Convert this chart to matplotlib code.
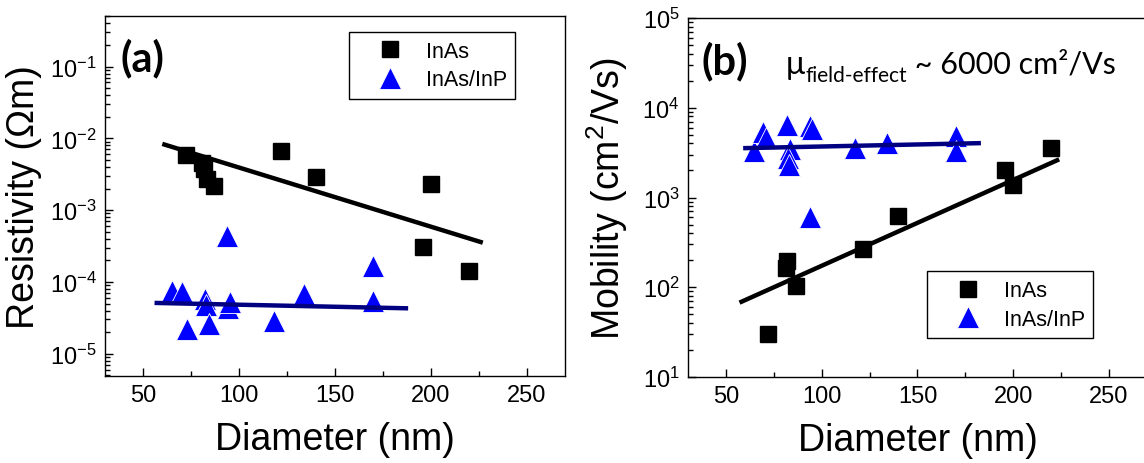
import matplotlib
matplotlib.use("Agg")
import matplotlib.pyplot as plt
from matplotlib.ticker import LogLocator, NullFormatter, MultipleLocator

plt.rcParams['font.family'] = ['Liberation Sans', 'DejaVu Sans']
plt.rcParams['mathtext.fontset'] = 'custom'
plt.rcParams['mathtext.rm'] = 'Liberation Sans'
plt.rcParams['mathtext.it'] = 'Liberation Sans:italic'
plt.rcParams['mathtext.bf'] = 'Liberation Sans:bold'

# (a) resistivity vs diameter
d_a_inas = [72, 80.5, 81.5, 83, 87, 122, 140, 196, 200, 220]
r_a_inas = [5.8e-3, 4.6e-3, 3.7e-3, 2.7e-3, 2.2e-3, 6.7e-3, 2.9e-3, 3.1e-4, 2.3e-3, 1.4e-4]
d_a_inp = [65, 70, 73, 82, 82.5, 84, 94, 95, 93.5, 118, 134, 170, 170]
r_a_inp = [7.6e-5, 7.3e-5, 2.2e-5, 5.7e-5, 4.7e-5, 2.6e-5, 4.4e-5, 5.2e-5, 4.4e-4,
           2.9e-5, 6.8e-5, 1.65e-4, 5.5e-5]
fit_a_inas_d = [61, 226]
fit_a_inas_r = [8.2e-3, 3.6e-4]
fit_a_inp_d = [57, 187]
fit_a_inp_r = [5.1e-5, 4.3e-5]

# (b) mobility vs diameter
d_b_inas = [72, 81, 82, 86.5, 121.5, 140, 195.5, 200, 220]
mu_b_inas = [30, 165, 195, 103, 265, 615, 2000, 1370, 3550]
d_b_inp = [64.5, 69, 71, 82, 83.5, 82.5, 83, 94, 95, 94, 117.5, 134, 170, 170]
mu_b_inp = [3300, 5300, 4600, 6400, 3450, 2750, 2300, 6300, 5800, 600, 3600, 4100, 4800, 3300]
fit_b_inas_d = [58, 223]
fit_b_inas_mu = [69, 2600]
fit_b_inp_d = [60, 182]
fit_b_inp_mu = [3550, 4030]

labels = ['InAs', 'InAs/InP']
xticks = [50, 100, 150, 200, 250]

W, H = 1144, 464
fig = plt.figure(figsize=(W / 100, H / 100), dpi=100)
ax1 = fig.add_axes([105 / W, 1 - 377 / H, 460 / W, 360 / H])
ax2 = fig.add_axes([688 / W, 1 - 378 / H, 459 / W, 359 / H])

blue = '#0000ff'
navy = '#000080'


def style(ax):
    ax.set_yscale('log')
    ax.set_xlim(30, 270)
    ax.set_xticks(xticks)
    ax.xaxis.set_minor_locator(MultipleLocator(25))
    ax.yaxis.set_major_locator(LogLocator(base=10))
    ax.yaxis.set_minor_locator(LogLocator(base=10, subs=range(2, 10)))
    ax.yaxis.set_minor_formatter(NullFormatter())
    ax.tick_params(which='both', direction='in', top=False, right=False,
                   labelsize=17, width=1)
    ax.tick_params(axis='both', which='major', length=6, pad=6)
    ax.tick_params(axis='both', which='minor', length=3.5)
    for s in ax.spines.values():
        s.set_linewidth(1.0)


# panel (a)
ax1.plot(d_a_inas, r_a_inas, ls='none', marker='s', ms=11.5, color='black',
         mec='black', label=labels[0], zorder=3)
ax1.plot(d_a_inp, r_a_inp, ls='none', marker='^', ms=16, color=blue,
         mec='white', mew=0.6, label=labels[1], zorder=3)
ax1.plot(fit_a_inas_d, fit_a_inas_r, color='black', lw=3.2, zorder=4)
ax1.plot(fit_a_inp_d, fit_a_inp_r, color=navy, lw=3.2, zorder=4)
style(ax1)
ax1.set_ylim(4.9e-6, 0.506)
ax1.set_xlabel('Diameter (nm)', fontsize=27)
ax1.set_ylabel('Resistivity (Ωm)', fontsize=27)
ax1.xaxis.set_label_coords(0.5, -0.125)
ax1.yaxis.set_label_coords(-0.137, 0.5)
ax1.text(0.033, 0.886, '(a)', transform=ax1.transAxes, fontsize=30,
         fontweight='bold', family=['Lato', 'DejaVu Sans'], va='center', ha='left')
leg1 = ax1.legend(loc='upper left', bbox_to_anchor=(0.531, 0.955), borderaxespad=0,
                  fontsize=15.5, numpoints=1, handlelength=3.0, handletextpad=0.15,
                  borderpad=0.4, labelspacing=0.35, fancybox=False, framealpha=1,
                  edgecolor='black')
leg1.get_frame().set_linewidth(1.0)

# panel (b)
ax2.plot(d_b_inas, mu_b_inas, ls='none', marker='s', ms=11.5, color='black',
         mec='black', label=labels[0], zorder=3)
ax2.plot(d_b_inp, mu_b_inp, ls='none', marker='^', ms=16, color=blue,
         mec='white', mew=0.6, label=labels[1], zorder=3)
ax2.plot(fit_b_inas_d, fit_b_inas_mu, color='black', lw=3.2, zorder=4)
ax2.plot(fit_b_inp_d, fit_b_inp_mu, color=navy, lw=3.2, zorder=4)
style(ax2)
ax2.set_ylim(10, 1e5)
ax2.set_xlabel('Diameter (nm)', fontsize=27)
ax2.set_ylabel('Mobility (cm$^2$/Vs)', fontsize=27)
ax2.xaxis.set_label_coords(0.5, -0.125)
ax2.yaxis.set_label_coords(-0.126, 0.5)
ax2.text(0.029, 0.883, '(b)', transform=ax2.transAxes, fontsize=30,
         fontweight='bold', family=['Lato', 'DejaVu Sans'], va='center', ha='left')

fam = ['Lato', 'DejaVu Sans']
yb = 0.847
t1 = ax2.text(0.212, yb, 'μ', transform=ax2.transAxes, fontsize=23,
              family=fam, va='baseline', ha='left')
t2 = ax2.annotate('field-effect', xy=(1, yb), xycoords=(t1, 'axes fraction'),
                  xytext=(1, -6), textcoords='offset points', fontsize=15,
                  family=fam, va='baseline', ha='left')
t3 = ax2.annotate(' ~ 6000 cm²/Vs', xy=(1, yb), xycoords=(t2, 'axes fraction'),
                  fontsize=22, family=fam, va='baseline', ha='left')

leg2 = ax2.legend(loc='lower left', bbox_to_anchor=(0.521, 0.108), borderaxespad=0,
                  fontsize=15.5, numpoints=1, handlelength=3.0, handletextpad=0.15,
                  borderpad=0.4, labelspacing=0.35, fancybox=False, framealpha=1,
                  edgecolor='black')
leg2.get_frame().set_linewidth(1.0)

fig.savefig('out.png', dpi=100)
